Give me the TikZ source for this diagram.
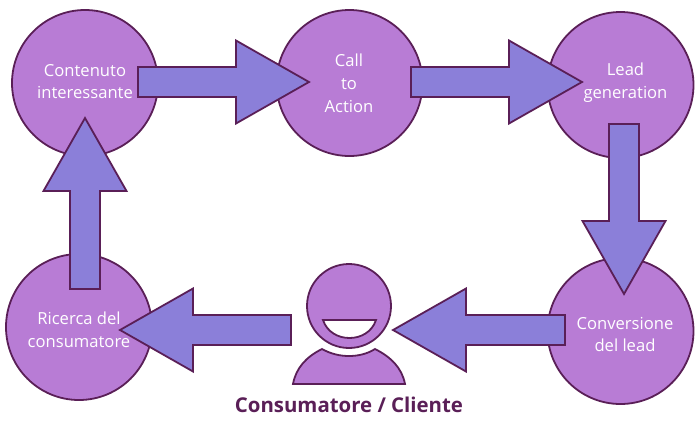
\documentclass[tikz,border=0pt]{standalone}
\usepackage{fontspec}
\setmainfont{Open Sans}
\usetikzlibrary{calc}

\definecolor{circlefill}{HTML}{B87CD5}
\definecolor{arrowfill}{HTML}{8B7FD9}
\definecolor{edgeline}{HTML}{5A1F57}

\tikzset{
	every picture/.style={line width=1.8pt},
	bigcircle/.style={circle,draw=edgeline,fill=circlefill,minimum size=146pt,inner sep=0pt},
	circletext/.style={text=white,align=center,inner sep=0pt,font=\fontsize{16.6}{22.8}\selectfont},
	blockarrow/.style={draw=edgeline,fill=arrowfill,line join=miter,
		to path={let \p1=($(\tikztotarget)!73pt!(\tikztostart)$) in
			($(\tikztostart)!15pt!90:(\tikztotarget)$) -- ($(\p1)!15pt!90:(\tikztotarget)$) -- ($(\p1)!41.5pt!90:(\tikztotarget)$) -- (\tikztotarget)
			-- ($(\p1)!41.5pt!-90:(\tikztotarget)$) -- ($(\p1)!15pt!-90:(\tikztotarget)$) -- ($(\tikztostart)!15pt!-90:(\tikztotarget)$) -- cycle}},
}

\begin{document}
\begin{tikzpicture}[x=1pt,y=1pt,yscale=-1,xscale=1]
	\useasboundingbox (0,0) rectangle (699,429);
	
	%Shape: Circle
	\node [bigcircle] (contenuto) at (85,83) {};
	\node [bigcircle] (call) at (349.5,83) {};
	\node [bigcircle] (lead) at (620.5,85) {};
	\node [bigcircle] (conversione) at (620.5,331) {};
	\node [bigcircle] (ricerca) at (79,327) {};
	
	%Arrow ends
	\coordinate (contenutoOut) at (138,82);
	\coordinate (callIn) at (309,82);
	\coordinate (callOut) at (411,82);
	\coordinate (leadIn) at (582,82);
	\coordinate (leadOut) at (624,124);
	\coordinate (conversioneIn) at (624,294);
	\coordinate (conversioneOut) at (565,330);
	\coordinate (consumatoreIn) at (393,330);
	\coordinate (consumatoreOut) at (291,330);
	\coordinate (ricercaIn) at (120,330);
	\coordinate (ricercaOut) at (85,289);
	\coordinate (contenutoIn) at (85,118);
	
	%Block Arrows
	\draw [blockarrow] (contenutoOut) to (callIn);
	\draw [blockarrow] (callOut) to (leadIn);
	\draw [blockarrow] (leadOut) to (conversioneIn);
	\draw [blockarrow] (conversioneOut) to (consumatoreIn);
	\draw [blockarrow] (consumatoreOut) to (ricercaIn);
	\draw [blockarrow] (ricercaOut) to (contenutoIn);
	
	%Shape: Person
	\node [circle,draw=edgeline,fill=circlefill,minimum size=84pt,inner sep=0pt] (head) at (349,306) {};
	\draw [draw=edgeline,fill=white] (323,320) -- (376,320) .. controls (372,332) and (361,338) .. (349.5,338) .. controls (338,338) and (327,332) .. (323,320) -- cycle ;
	\draw [draw=edgeline,fill=circlefill] (293,384) .. controls (296,368) and (306,357) .. (322,349) .. controls (331,354) and (340,356) .. (349,356) .. controls (358,356) and (367,354) .. (375,349) .. controls (391,357) and (402,368) .. (405,384) -- cycle ;
	
	% Text Node
	\node [circletext] (contenutoText) at (85,81.5) {Contenuto\\interessante};
	\node [circletext] (callText) at (349,83) {Call\\to\\Action};
	\node [circletext] (leadText) at (625.5,83) {Lead\\generation};
	\node [circletext] (conversioneText) at (625,334.5) {Conversione\\del lead};
	\node [circletext] (ricercaText) at (79,330) {Ricerca del\\consumatore};
	\node [text=edgeline,inner sep=0pt,font=\fontsize{20.4}{24}\selectfont\bfseries] (clienteText) at (349,405) {Consumatore / Cliente};
	
\end{tikzpicture}
\end{document}
